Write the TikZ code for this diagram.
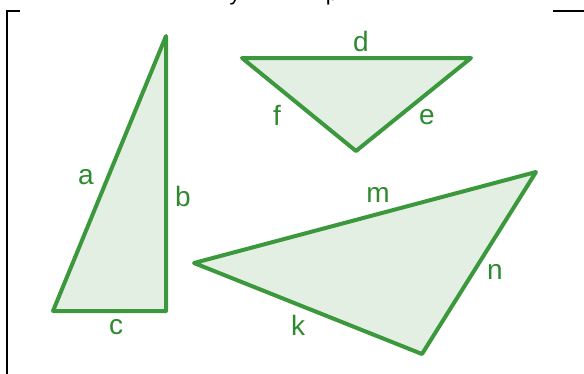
\documentclass[tikz,border=0pt]{standalone}
\usepackage{fontspec}
\setmainfont{Liberation Sans}
\definecolor{edgegreen}{HTML}{3C983C}
\definecolor{fillgreen}{HTML}{E4EFE4}
\definecolor{labelgreen}{HTML}{2F8A2F}
\begin{document}
\begin{tikzpicture}[x=1pt,y=-1pt,
  tri/.style={draw=edgegreen,fill=fillgreen,line width=4pt,line join=round},
  lbl/.style={text=labelgreen,font=\fontsize{28}{28}\selectfont,inner sep=0pt},
  frame/.style={draw=black,line width=1.8pt},
  cut/.style={font=\fontsize{22}{22}\selectfont,inner sep=0pt,anchor=base}]
\useasboundingbox (0,0) rectangle (584,373);
% frame
\coordinate (f1) at (7,375);
\coordinate (f2) at (7,11);
\coordinate (f3) at (20,11);
\coordinate (f4) at (553,11);
\coordinate (f5) at (586,11);
\draw[frame] (f1) -- (f2) -- (f3);
\draw[frame] (f4) -- (f5);
% cut off title text
\node[cut] (ty) at (235,0.5) {y};
\node[cut] (tp) at (332,0.5) {p};
% triangle 1
\coordinate (A1) at (166,36);
\coordinate (B1) at (53,311);
\coordinate (C1) at (166,311);
\draw[tri] (A1) -- (B1) -- (C1) -- cycle;
\node[lbl] (la) at (86,177) {a};
\node[lbl] (lb) at (183,196) {b};
\node[lbl] (lc) at (116,327) {c};
% triangle 2
\coordinate (A2) at (242,58);
\coordinate (B2) at (471,58);
\coordinate (C2) at (356,151);
\draw[tri] (A2) -- (B2) -- (C2) -- cycle;
\node[lbl] (ld) at (361,41) {d};
\node[lbl] (le) at (427,117) {e};
\node[lbl] (lf) at (277,115) {f};
% triangle 3
\coordinate (A3) at (194,263);
\coordinate (B3) at (536,172);
\coordinate (C3) at (422,354);
\draw[tri] (A3) -- (B3) -- (C3) -- cycle;
\node[lbl] (lm) at (378,195) {m};
\node[lbl] (ln) at (495,272) {n};
\node[lbl] (lk) at (298,325) {k};
\end{tikzpicture}
\end{document}
